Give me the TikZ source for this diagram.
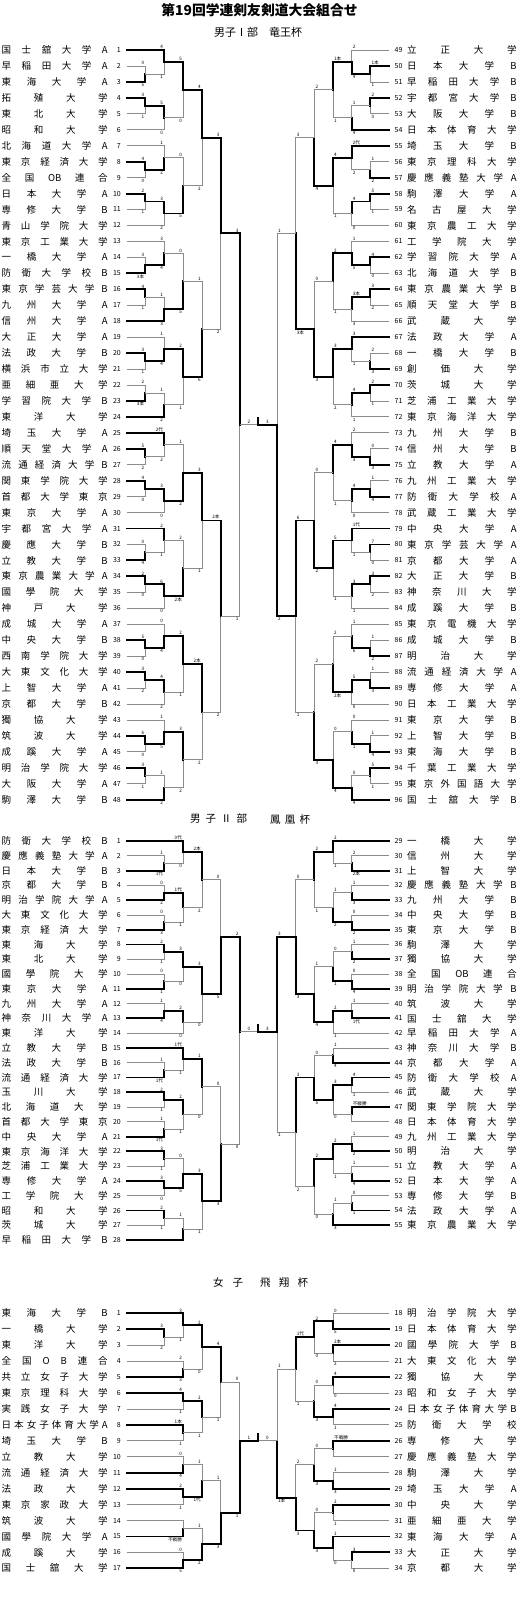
\documentclass[tikz,border=0pt]{standalone}
\usepackage{fontspec}
\setmainfont{Noto Sans CJK JP}
\newcounter{lb}
\def\dEnd{DEND}
\newcommand\dist[2]{\hbox to #1pt{\dFirst#2\dEnd}}
\def\dFirst#1{#1\dNext}
\def\dNext#1{\ifx\dEnd#1\else\hfill#1\expandafter\dNext\fi}
\def\OB{OB}
\newcommand\setL{\def\xo{126.5}\def\xs{1}\def\lw{18.85}\def\ancA{south east}\def\ancB{north east}}
\newcommand\setR{\def\xo{389}\def\xs{-1}\def\lw{18.67}\def\ancA{south west}\def\ancB{north west}}
\newcommand\setY[2]{\def\yo{#1}\def\yp{#2}}
\newcommand\M[8]{\MM{#1}{#2}{#3}{#4}{#5}{#6}{#7}{#8}{((#3)+(#5))/2}}
\newcommand\MM[9]{%
 \pgfmathsetmacro\mx{\xo+\xs*#1*\lw}%
 \pgfmathsetmacro\xa{\xo+\xs*#2*\lw}%
 \pgfmathsetmacro\xb{\xo+\xs*#4*\lw}%
 \pgfmathsetmacro\ya{\yo+(#3-1)*\yp}%
 \pgfmathsetmacro\yb{\yo+(#5-1)*\yp}%
 \pgfmathsetmacro\ym{\yo+(#9-1)*\yp}%
 \ifnum#6=1 \def\sa{win}\def\sb{lose}\else\def\sa{lose}\def\sb{win}\fi
 \draw[\sb] (\xb,\yb) -- (\mx,\yb) -- (\mx,\ym);
 \draw[\sa] (\xa,\ya) -- (\mx,\ya) -- (\mx,\ym);
 \stepcounter{lb}%
 \node[sc,anchor=\ancA] (la\thelb) at (\mx-\xs*0.6,\ya-0.6) {#7};
 \node[sc,anchor=\ancB] (lb\thelb) at (\mx-\xs*0.6,\yb+0.6) {#8};}
\newcommand\TL[2]{\pgfmathsetmacro\ty{\yo+(#1-1)*\yp}%
 \node[nm] (t\sec#1) at (1.5,\ty) {\dist{106}{#2}};
 \node[numl] (n\sec#1) at (121,\ty) {#1};}
\newcommand\TR[2]{\pgfmathsetmacro\ty{\yo+(#1-\roff-1)*\yp}%
 \node[numr] (n\sec#1) at (394.5,\ty) {#1};
 \node[nm] (t\sec#1) at (407,\ty) {\dist{109.5}{#2}};}
\newcommand\FF[4]{\pgfmathsetmacro\fy{\yo+(#1-1)*\yp}%
 \ifnum#4=1 \def\sa{win}\def\sb{lose}\else\def\sa{lose}\def\sb{win}\fi
 \draw[\sb] (258.2,\fy) -- (277,\fy);
 \draw[\sa] (239.9,\fy) -- (258.2,\fy);
 \draw[win] (258.2,\fy) -- (258.2,\fy-7);
 \node[sc,anchor=south] (fl\sec) at (249,\fy-0.6) {#2};
 \node[sc,anchor=south] (fr\sec) at (267.5,\fy-0.6) {#3};}
\tikzset{
 win/.style={line width=1.9pt, black, line cap=rect},
 lose/.style={line width=0.8pt, black!45},
 nm/.style={anchor=west, inner sep=0pt, font=\fontsize{9.5}{10}\selectfont},
 numl/.style={anchor=east, inner sep=0pt, font=\fontsize{7}{7}\selectfont},
 numr/.style={anchor=west, inner sep=0pt, font=\fontsize{7}{7}\selectfont},
 sc/.style={inner sep=0.4pt, font=\fontsize{4.6}{5}\selectfont},
 head/.style={anchor=west, inner sep=0pt, font=\fontsize{10.5}{11}\selectfont},
}
\begin{document}
\begin{tikzpicture}[x=1pt,y=-1pt]
\useasboundingbox (0,0) rectangle (520,1598);
\node[font=\fontsize{13.8}{14}\selectfont\bfseries] (title) at (259.5,10) {第19回学連剣友剣道大会組合せ};
\node[font=\fontsize{11}{11}\selectfont] (h1) at (258,32) {男子Ⅰ部　竜王杯};
\node[head] (h2a) at (190,819) {\dist{57}{男子Ⅱ部}};
\node[head] (h2b) at (270,819) {\dist{40}{鳳凰杯}};
\node[head] (h3a) at (213,1283) {\dist{30}{女子}};
\node[head] (h3b) at (260,1283) {\dist{48}{飛翔杯}};
% ================= Section 1 =================
\def\sec{a}\setY{50}{15.95}\def\roff{48}
\TL{1}{国士舘大学A}\TL{2}{早稲田大学A}\TL{3}{東海大学A}\TL{4}{拓殖大学}
\TL{5}{東北大学}\TL{6}{昭和大学}\TL{7}{北海道大学A}\TL{8}{東京経済大学}
\TL{9}{全国\OB 連合}\TL{10}{日本大学A}\TL{11}{専修大学B}\TL{12}{青山学院大学}
\TL{13}{東京工業大学}\TL{14}{一橋大学A}\TL{15}{防衛大学校B}\TL{16}{東京学芸大学B}
\TL{17}{九州大学A}\TL{18}{信州大学A}\TL{19}{大正大学A}\TL{20}{法政大学B}
\TL{21}{横浜市立大学}\TL{22}{亜細亜大学}\TL{23}{学習院大学B}\TL{24}{東洋大学}
\TL{25}{埼玉大学A}\TL{26}{順天堂大学A}\TL{27}{流通経済大学B}\TL{28}{関東学院大学}
\TL{29}{首都大学東京}\TL{30}{東京大学A}\TL{31}{宇都宮大学A}\TL{32}{慶應大学B}
\TL{33}{立教大学B}\TL{34}{東京農業大学A}\TL{35}{國學院大学}\TL{36}{神戸大学}
\TL{37}{成城大学A}\TL{38}{中央大学B}\TL{39}{西南学院大学}\TL{40}{大東文化大学}
\TL{41}{上智大学A}\TL{42}{京都大学B}\TL{43}{獨協大学}\TL{44}{筑波大学}
\TL{45}{成蹊大学A}\TL{46}{明治学院大学}\TL{47}{大阪大学A}\TL{48}{駒澤大学B}
\TR{49}{立正大学}\TR{50}{日本大学B}\TR{51}{早稲田大学B}\TR{52}{宇都宮大学B}
\TR{53}{大阪大学B}\TR{54}{日本体育大学}\TR{55}{埼玉大学B}\TR{56}{東京理科大学}
\TR{57}{慶應義塾大学A}\TR{58}{駒澤大学A}\TR{59}{名古屋大学}\TR{60}{東京農工大学}
\TR{61}{工学院大学}\TR{62}{学習院大学A}\TR{63}{北海道大学B}\TR{64}{東京農業大学B}
\TR{65}{順天堂大学B}\TR{66}{武蔵大学}\TR{67}{法政大学A}\TR{68}{一橋大学B}
\TR{69}{創価大学}\TR{70}{茨城大学}\TR{71}{芝浦工業大学}\TR{72}{東京海洋大学}
\TR{73}{九州大学B}\TR{74}{信州大学B}\TR{75}{立教大学A}\TR{76}{九州工業大学}
\TR{77}{防衛大学校A}\TR{78}{武蔵工業大学}\TR{79}{中央大学A}\TR{80}{東京学芸大学A}
\TR{81}{京都大学A}\TR{82}{大正大学B}\TR{83}{神奈川大学}\TR{84}{成蹊大学B}
\TR{85}{東京電機大学}\TR{86}{成城大学B}\TR{87}{明治大学}\TR{88}{流通経済大学A}
\TR{89}{専修大学A}\TR{90}{日本工業大学}\TR{91}{東京大学B}\TR{92}{上智大学B}
\TR{93}{東海大学B}\TR{94}{千葉工業大学}\TR{95}{東京外国語大学}\TR{96}{国士舘大学B}
\setL
\M{1}{0}{2}{0}{3}{2}{0}{5}
\M{2}{0}{1}{1}{2.5}{1}{4}{1}
\M{1}{0}{4}{0}{5}{1}{3}{1}
\M{2}{1}{4.5}{0}{6}{1}{5}{0}
\M{3}{2}{1.75}{2}{5.25}{1}{5}{0}
\M{1}{0}{8}{0}{9}{1}{4}{0}
\M{2}{0}{7}{1}{8.5}{2}{1}{2}
\M{1}{0}{10}{0}{11}{1}{2}{1}
\M{2}{1}{10.5}{0}{12}{1}{3}{2}
\M{3}{2}{7.75}{2}{11.25}{2}{0}{5}
\M{4}{3}{3.5}{3}{9.5}{1}{4}{2}
\M{1}{0}{14}{0}{15}{2}{3}{3本}
\M{2}{0}{13}{1}{14.5}{2}{3}{4}
\M{1}{0}{16}{0}{17}{1}{4}{1}
\M{2}{1}{16.5}{0}{18}{2}{1}{3}
\M{3}{2}{13.75}{2}{17.25}{2}{0}{5}
\M{1}{0}{20}{0}{21}{1}{3}{1}
\M{2}{0}{19}{1}{20.5}{2}{1}{4}
\M{1}{0}{22}{0}{23}{2}{2}{3本}
\M{2}{1}{22.5}{0}{24}{2}{1}{2}
\M{3}{2}{19.75}{2}{23.25}{1}{2}{1}
\M{4}{3}{15.5}{3}{21.5}{2}{1}{6}
\M{5}{4}{6.5}{4}{18.5}{1}{3}{2}
\M{1}{0}{26}{0}{27}{1}{5}{2}
\M{2}{0}{25}{1}{26.5}{1}{2代}{2}
\M{1}{0}{28}{0}{29}{1}{4}{0}
\M{2}{1}{28.5}{0}{30}{1}{3}{0}
\M{3}{2}{25.75}{2}{29.25}{2}{1}{2}
\M{1}{0}{32}{0}{33}{2}{0}{4}
\M{2}{0}{31}{1}{32.5}{1}{2}{1}
\M{1}{0}{34}{0}{35}{1}{2}{0}
\M{2}{1}{34.5}{0}{36}{1}{6}{0}
\M{3}{2}{31.75}{2}{35.25}{2}{2}{2本}
\M{4}{3}{27.5}{3}{33.5}{1}{3}{1}
\M{1}{0}{38}{0}{39}{1}{5}{0}
\M{2}{0}{37}{1}{38.5}{2}{0}{4}
\M{1}{0}{40}{0}{41}{1}{3}{2}
\M{2}{1}{40.5}{0}{42}{1}{4}{2}
\M{3}{2}{37.75}{2}{41.25}{1}{2}{1}
\M{1}{0}{44}{0}{45}{1}{6}{0}
\M{2}{0}{43}{1}{44.5}{2}{1}{5}
\M{1}{0}{46}{0}{47}{1}{3}{1}
\M{2}{1}{46.5}{0}{48}{2}{1}{2}
\M{3}{2}{43.75}{2}{47.25}{1}{3}{2}
\M{4}{3}{39.5}{3}{45.5}{1}{2本}{2}
\M{5}{4}{30.5}{4}{42.5}{1}{2本}{2}
\MM{6}{5}{12.5}{5}{36.5}{1}{3}{1}{24.5}
\setR
\M{1}{0}{2}{0}{3}{1}{1本}{1}
\M{2}{0}{1}{1}{2.5}{2}{2}{4}
\M{1}{0}{4}{0}{5}{1}{2}{0}
\M{2}{1}{4.5}{0}{6}{2}{1}{4}
\M{3}{2}{1.75}{2}{5.25}{1}{1本}{1}
\M{1}{0}{8}{0}{9}{2}{1}{2}
\M{2}{0}{7}{1}{8.5}{1}{2代}{2}
\M{1}{0}{10}{0}{11}{1}{5}{1}
\M{2}{1}{10.5}{0}{12}{1}{4}{0}
\M{3}{2}{7.75}{2}{11.25}{1}{4}{1}
\M{4}{3}{3.5}{3}{9.5}{2}{2}{4}
\M{1}{0}{14}{0}{15}{1}{4}{0}
\M{2}{0}{13}{1}{14.5}{2}{1}{5}
\M{1}{0}{16}{0}{17}{1}{3}{2}
\M{2}{1}{16.5}{0}{18}{1}{3本}{3}
\M{3}{2}{13.75}{2}{17.25}{1}{2}{1}
\M{1}{0}{20}{0}{21}{2}{2}{3}
\M{2}{0}{19}{1}{20.5}{1}{3}{1}
\M{1}{0}{22}{0}{23}{1}{2}{1}
\M{2}{1}{22.5}{0}{24}{1}{4}{1}
\M{3}{2}{19.75}{2}{23.25}{1}{3}{2}
\M{4}{3}{15.5}{3}{21.5}{2}{0}{3}
\M{5}{4}{6.5}{4}{18.5}{2}{3}{3本}
\M{1}{0}{26}{0}{27}{2}{0}{3}
\M{2}{0}{25}{1}{26.5}{2}{2}{3}
\M{1}{0}{28}{0}{29}{2}{1}{4}
\M{2}{1}{28.5}{0}{30}{1}{4}{0}
\M{3}{2}{25.75}{2}{29.25}{1}{4}{1}
\M{1}{0}{32}{0}{33}{1}{7}{0}
\M{2}{0}{31}{1}{32.5}{1}{1代}{1}
\M{1}{0}{34}{0}{35}{1}{3}{2}
\M{2}{1}{34.5}{0}{36}{1}{3}{1}
\M{3}{2}{31.75}{2}{35.25}{1}{5}{1}
\M{4}{3}{27.5}{3}{33.5}{2}{0}{2}
\M{1}{0}{38}{0}{39}{2}{1}{2}
\M{2}{0}{37}{1}{38.5}{2}{1}{6}
\M{1}{0}{40}{0}{41}{2}{1}{3}
\M{2}{1}{40.5}{0}{42}{1}{5}{0}
\M{3}{2}{37.75}{2}{41.25}{2}{2}{2本}
\M{1}{0}{44}{0}{45}{2}{1}{4}
\M{2}{0}{43}{1}{44.5}{2}{0}{1}
\M{1}{0}{46}{0}{47}{1}{5}{1}
\M{2}{1}{46.5}{0}{48}{2}{0}{4}
\M{3}{2}{43.75}{2}{47.25}{2}{0}{4}
\M{4}{3}{39.5}{3}{45.5}{2}{2}{3}
\M{5}{4}{30.5}{4}{42.5}{1}{6}{1}
\MM{6}{5}{12.5}{5}{36.5}{2}{1}{2}{24.5}
\FF{24.5}{2}{3}{2}
% ================= Section 2 =================
\def\sec{b}\setY{841}{14.78}\def\roff{28}
\TL{1}{防衛大学校B}\TL{2}{慶應義塾大学A}\TL{3}{日本大学B}\TL{4}{京都大学B}
\TL{5}{明治学院大学A}\TL{6}{大東文化大学}\TL{7}{東京経済大学}\TL{8}{東海大学}
\TL{9}{東北大学}\TL{10}{國學院大学}\TL{11}{東京大学A}\TL{12}{九州大学A}
\TL{13}{神奈川大学A}\TL{14}{東洋大学}\TL{15}{立教大学B}\TL{16}{法政大学B}
\TL{17}{流通経済大学}\TL{18}{玉川大学}\TL{19}{北海道大学}\TL{20}{首都大学東京}
\TL{21}{中央大学A}\TL{22}{東京海洋大学}\TL{23}{芝浦工業大学}\TL{24}{専修大学A}
\TL{25}{工学院大学}\TL{26}{昭和大学}\TL{27}{茨城大学}\TL{28}{早稲田大学B}
\TR{29}{一橋大学}\TR{30}{信州大学}\TR{31}{上智大学}\TR{32}{慶應義塾大学B}
\TR{33}{九州大学B}\TR{34}{中央大学B}\TR{35}{東京大学B}\TR{36}{駒澤大学}
\TR{37}{獨協大学}\TR{38}{全国\OB 連合}\TR{39}{明治学院大学B}\TR{40}{筑波大学}
\TR{41}{国士舘大学}\TR{42}{早稲田大学A}\TR{43}{神奈川大学B}\TR{44}{京都大学A}
\TR{45}{防衛大学校A}\TR{46}{武蔵大学}\TR{47}{関東学院大学}\TR{48}{日本体育大学}
\TR{49}{九州工業大学}\TR{50}{明治大学}\TR{51}{立教大学A}\TR{52}{日本大学A}
\TR{53}{専修大学B}\TR{54}{法政大学A}\TR{55}{東京農業大学}
\setL
\M{2}{0}{2}{0}{3}{2}{1}{1代}
\M{3}{0}{1}{2}{2.5}{1}{0代}{0}
\M{2}{0}{4}{0}{5}{2}{0}{2}
\M{2}{0}{6}{0}{7}{2}{0}{3}
\M{3}{2}{4.5}{2}{6.5}{1}{1代}{1}
\M{4}{3}{1.75}{3}{5.5}{1}{2本}{2}
\M{2}{0}{8}{0}{9}{1}{2}{1}
\M{2}{0}{10}{0}{11}{2}{0}{1}
\M{3}{2}{8.5}{2}{10.5}{1}{3}{0}
\M{2}{0}{12}{0}{13}{2}{1}{4}
\M{3}{2}{12.5}{0}{14}{1}{2}{0}
\M{4}{3}{9.5}{3}{13.25}{1}{3}{0}
\M{5}{4}{3.625}{4}{11.375}{2}{0}{5}
\M{2}{0}{16}{0}{17}{2}{1}{1代}
\M{3}{0}{15}{2}{16.5}{1}{1代}{1}
\M{2}{0}{18}{0}{19}{1}{2}{1}
\M{2}{0}{20}{0}{21}{2}{1}{1代}
\M{3}{2}{18.5}{2}{20.5}{1}{2}{1}
\M{4}{3}{15.75}{3}{19.5}{1}{1}{0}
\M{2}{0}{22}{0}{23}{1}{3}{1}
\M{2}{0}{24}{0}{25}{1}{3}{0}
\M{3}{2}{22.5}{2}{24.5}{2}{0}{5}
\M{2}{0}{26}{0}{27}{1}{2}{1}
\M{3}{2}{26.5}{0}{28}{2}{1}{}
\M{4}{3}{23.5}{3}{27.25}{1}{3}{1}
\M{5}{4}{17.625}{4}{25.375}{2}{0}{3}
\MM{6}{5}{7.5}{5}{21.5}{1}{2}{0}{13.9}
\setR
\M{2}{0}{2}{0}{3}{2}{2}{2本}
\M{3}{0}{1}{2}{2.5}{1}{2}{1}
\M{2}{0}{4}{0}{5}{2}{1}{3}
\M{2}{0}{6}{0}{7}{2}{0}{2}
\M{3}{2}{4.5}{2}{6.5}{2}{1}{2}
\M{4}{3}{1.75}{3}{5.5}{1}{2}{1}
\M{2}{0}{8}{0}{9}{2}{1}{2}
\M{2}{0}{10}{0}{11}{2}{0}{4}
\M{3}{2}{8.5}{2}{10.5}{2}{0}{1}
\M{2}{0}{12}{0}{13}{2}{1}{1代}
\M{3}{2}{12.5}{0}{14}{1}{2}{1}
\M{4}{3}{9.5}{3}{13.25}{2}{1}{4}
\M{5}{4}{3.625}{4}{11.375}{2}{0}{3}
\M{3}{0}{15}{0}{16}{2}{1}{4}
\M{2}{0}{17}{0}{18}{1}{4}{1}
\M{2}{0}{19}{0}{20}{1}{不戦勝}{}
\M{3}{2}{17.5}{2}{19.5}{1}{3}{0}
\M{4}{3}{15.5}{3}{18.5}{2}{0}{5}
\M{2}{0}{21}{0}{22}{2}{1}{2}
\M{2}{0}{23}{0}{24}{2}{1}{4}
\M{3}{2}{21.5}{2}{23.5}{1}{2}{1}
\M{2}{0}{25}{0}{26}{2}{0}{1}
\M{3}{2}{25.5}{0}{27}{2}{1}{3}
\M{4}{3}{22.5}{3}{26.25}{1}{2}{0}
\M{5}{4}{17}{4}{24.375}{1}{3}{2}
\MM{6}{5}{7.5}{5}{20.6875}{1}{3}{1}{13.9}
\FF{13.9}{0}{3}{2}
% ================= Section 3 =================
\def\sec{c}\setY{1313.3}{15.94}\def\roff{17}
\TL{1}{東海大学B}\TL{2}{一橋大学}\TL{3}{東洋大学}\TL{4}{全国OB連合}
\TL{5}{共立女子大学}\TL{6}{東京理科大学}\TL{7}{実践女子大学}\TL{8}{日本女子体育大学A}
\TL{9}{埼玉大学B}\TL{10}{立教大学}\TL{11}{流通経済大学}\TL{12}{法政大学}
\TL{13}{東京家政大学}\TL{14}{筑波大学}\TL{15}{國學院大学A}\TL{16}{成蹊大学}
\TL{17}{国士舘大学}
\TR{18}{明治学院大学}\TR{19}{日本体育大学}\TR{20}{國學院大学B}\TR{21}{大東文化大学}
\TR{22}{獨協大学}\TR{23}{昭和女子大学}\TR{24}{日本女子体育大学B}\TR{25}{防衛大学校}
\TR{26}{専修大学}\TR{27}{慶應義塾大学}\TR{28}{駒澤大学}\TR{29}{埼玉大学A}
\TR{30}{中央大学}\TR{31}{亜細亜大学}\TR{32}{東海大学A}\TR{33}{大正大学}
\TR{34}{京都大学}
\setL
\M{2}{0}{2}{0}{3}{1}{3}{2}
\M{3}{0}{1}{2}{2.5}{1}{3}{1}
\M{3}{0}{4}{0}{5}{2}{2}{3}
\M{4}{3}{1.75}{3}{4.5}{1}{2}{0}
\M{3}{0}{6}{0}{7}{1}{4}{1}
\M{3}{0}{8}{0}{9}{1}{1本}{1}
\M{4}{3}{6.5}{3}{8.5}{1}{2}{1}
\M{5}{4}{3.125}{4}{7.5}{1}{4}{1}
\M{3}{0}{10}{0}{11}{2}{0}{4}
\M{3}{0}{12}{0}{13}{1}{2}{1}
\M{4}{3}{10.5}{3}{12.5}{2}{1}{1代}
\M{3}{0}{14}{0}{15}{2}{}{不戦勝}
\M{3}{0}{16}{0}{17}{2}{0}{5}
\M{4}{3}{14.5}{3}{16.5}{2}{1}{2}
\M{5}{4}{11.5}{4}{15.5}{2}{1}{3}
\MM{6}{5}{5.3125}{5}{13.5}{2}{0}{1}{9}
\setR
\M{3}{0}{1}{0}{2}{2}{0}{5}
\M{3}{0}{3}{0}{4}{1}{2本}{2}
\M{4}{3}{1.5}{3}{3.5}{1}{2}{0}
\M{3}{0}{5}{0}{6}{1}{4}{0}
\M{3}{0}{7}{0}{8}{1}{4}{1}
\M{4}{3}{5.5}{3}{7.5}{2}{0}{3}
\M{5}{4}{2.5}{4}{6.5}{1}{1代}{1}
\M{3}{0}{9}{0}{10}{1}{不戦勝}{}
\M{3}{0}{11}{0}{12}{2}{1}{3}
\M{4}{3}{9.5}{3}{11.5}{2}{0}{3}
\M{3}{0}{13}{0}{14}{1}{2}{1}
\M{2}{0}{16}{0}{17}{1}{3}{0}
\M{3}{0}{15}{2}{16.5}{1}{1}{0}
\M{4}{3}{13.5}{3}{15.75}{2}{0}{3}
\M{5}{4}{10.5}{4}{14.625}{2}{2}{3}
\MM{6}{5}{4.5}{5}{12.5625}{2}{1}{1本}{9}
\FF{9}{1}{0}{1}
\end{tikzpicture}
\end{document}
